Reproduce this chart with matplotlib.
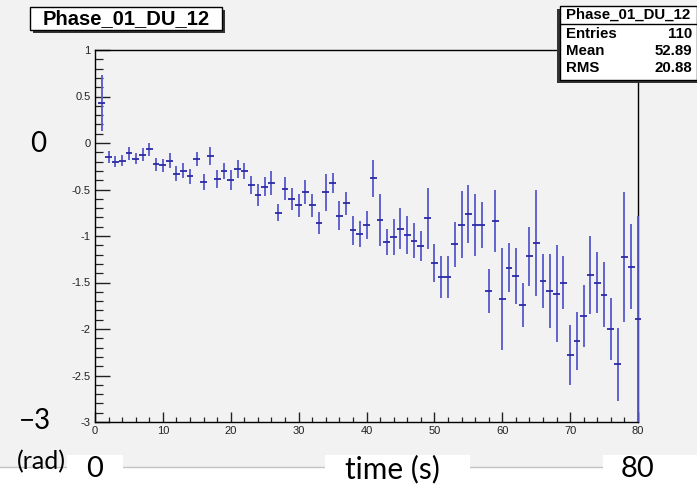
import numpy as np
import matplotlib
matplotlib.use("Agg")
import matplotlib.pyplot as plt
from matplotlib.patches import Rectangle
from matplotlib.ticker import MultipleLocator

# bin centres (s), phase (rad) and errors
time_s = np.arange(1, 81)
phase = [0.43, -0.15, -0.20, -0.19, -0.11, -0.17, -0.125, -0.065, -0.23, -0.24,
         -0.19, -0.33, -0.30, -0.36, -0.17, -0.42, -0.14, -0.39, -0.30, -0.40,
         -0.28, -0.30, -0.45, -0.56, -0.47, -0.43, -0.75, -0.49, -0.60, -0.67,
         -0.53, -0.67, -0.86, -0.53, -0.43, -0.78, -0.65, -0.94, -0.98, -0.88,
         -0.38, -0.83, -1.06, -1.01, -0.92, -0.99, -1.05, -1.11, -0.81, -1.29,
         -1.44, -1.44, -1.09, -0.88, -0.76, -0.88, -0.88, -1.59, -0.84, -1.68,
         -1.34, -1.43, -1.74, -1.22, -1.07, -1.48, -1.59, -1.62, -1.50, -2.28,
         -2.13, -1.86, -1.42, -1.50, -1.63, -2.00, -2.38, -1.23, -1.33, -1.89]
phase_err = [0.30, 0.06, 0.06, 0.06, 0.07, 0.06, 0.07, 0.07, 0.07, 0.07,
             0.08, 0.08, 0.08, 0.08, 0.075, 0.085, 0.10, 0.095, 0.09, 0.11,
             0.10, 0.09, 0.10, 0.12, 0.10, 0.13, 0.09, 0.125, 0.12, 0.125,
             0.13, 0.125, 0.12, 0.20, 0.11, 0.16, 0.12, 0.16, 0.14, 0.15,
             0.20, 0.28, 0.14, 0.19, 0.22, 0.20, 0.19, 0.16, 0.33, 0.20,
             0.23, 0.23, 0.24, 0.36, 0.31, 0.33, 0.25, 0.24, 0.33, 0.55,
             0.26, 0.30, 0.24, 0.32, 0.57, 0.29, 0.40, 0.52, 0.28, 0.32,
             0.31, 0.33, 0.42, 0.33, 0.35, 0.33, 0.39, 0.70, 0.46, 1.11]

hist_name = "Phase_01_DU_12"
stat_names = ["Entries", "Mean", "RMS"]
stat_values = ["110", "52.89", "20.88"]
ytick_vals = [1, 0.5, 0, -0.5, -1, -1.5, -2, -2.5, -3]
ytick_labels = ["1", "0.5", "0", "-0.5", "-1", "-1.5", "-2", "-2.5", "-3"]
xtick_vals = [0, 10, 20, 30, 40, 50, 60, 70, 80]

W, H = 697, 487
BG = "#f2f2f2"
ROOT = "Liberation Sans"
SLIDE = "Lato"


def fx(px):
    return px / W


def fy(py):
    return 1 - py / H


fig = plt.figure(figsize=(W / 100, H / 100), dpi=100, facecolor="white")

# ROOT canvas background
fig.patches.append(Rectangle((0, fy(467)), 1, 1 - fy(467), transform=fig.transFigure,
                             facecolor=BG, edgecolor="none", zorder=-2))
fig.lines.append(plt.Line2D([0, 1], [fy(467), fy(467)], transform=fig.transFigure,
                            color="#c4c4c4", lw=1.0, zorder=-1))

ax = fig.add_axes([fx(95), fy(422), fx(638) - fx(95), fy(50) - fy(422)])
ax.set_zorder(2)
ax.set_facecolor(BG)
ax.set_xlim(0, 80)
ax.set_ylim(-3, 1)

ax.errorbar(time_s, phase, yerr=phase_err, fmt="none", ecolor="#5858cc",
            elinewidth=1.3, capsize=0, zorder=3, clip_on=False)
ax.errorbar(time_s, phase, xerr=0.5, fmt="none", ecolor="#2a2aa6",
            elinewidth=1.3, capsize=0, zorder=4, clip_on=False)

for s in ax.spines.values():
    s.set_color("black")
    s.set_linewidth(1.0)

ax.set_yticks(ytick_vals)
ax.set_yticklabels(ytick_labels)
ax.set_xticks(xtick_vals)
ax.yaxis.set_minor_locator(MultipleLocator(0.1))
ax.xaxis.set_minor_locator(MultipleLocator(2))
ax.tick_params(axis="y", which="major", direction="in", length=11, width=1.0,
               labelsize=8, pad=3, colors="#222222")
ax.tick_params(axis="y", which="minor", direction="in", length=5.5, width=0.9,
               colors="#222222")
ax.tick_params(axis="x", which="major", direction="in", length=7, width=1.0,
               labelsize=8, pad=3, colors="#222222")
ax.tick_params(axis="x", which="minor", direction="in", length=3.5, width=0.9,
               colors="#222222")
for lab in ax.get_xticklabels() + ax.get_yticklabels():
    lab.set_fontfamily(ROOT)

# title box (top left)
fig.patches.append(Rectangle((fx(33), fy(33)), fx(225) - fx(33), fy(10) - fy(33),
                             transform=fig.transFigure, facecolor="#333333",
                             edgecolor="none", zorder=5))
fig.patches.append(Rectangle((fx(30), fy(30)), fx(222) - fx(30), fy(7) - fy(30),
                             transform=fig.transFigure, facecolor="white",
                             edgecolor="black", lw=1.0, zorder=6))
fig.text(fx(126), fy(18.5), hist_name, ha="center", va="center", fontsize=14.5,
         fontweight="bold", family=ROOT, zorder=7)

# stats box (top right)
fig.patches.append(Rectangle((fx(557), fy(83)), fx(697) - fx(557), fy(9) - fy(83),
                             transform=fig.transFigure, facecolor="#333333",
                             edgecolor="none", zorder=5))
fig.patches.append(Rectangle((fx(560), fy(80)), fx(697) - fx(560), fy(6) - fy(80),
                             transform=fig.transFigure, facecolor="white",
                             edgecolor="black", lw=1.0, zorder=6))
fig.lines.append(plt.Line2D([fx(560), fx(697)], [fy(24), fy(24)], transform=fig.transFigure,
                            color="black", lw=1.0, zorder=7))
fig.text(fx(628), fy(15), hist_name, ha="center", va="center", fontsize=10.8,
         fontweight="bold", family=ROOT, zorder=7)
for i, (n, v) in enumerate(zip(stat_names, stat_values)):
    yy = fy(34 + 17 * i)
    fig.text(fx(566), yy, n, ha="left", va="center", fontsize=10.8,
             fontweight="bold", family=ROOT, zorder=7)
    fig.text(fx(692), yy, v, ha="right", va="center", fontsize=10.8,
             fontweight="bold", family=ROOT, zorder=7)

# slide annotations
for x0, x1 in [(67, 123), (325, 470), (603, 697)]:
    fig.patches.append(Rectangle((fx(x0), 0), fx(x1) - fx(x0), fy(455), transform=fig.transFigure,
                                 facecolor="white", edgecolor="none", zorder=8))
fig.text(fx(38), fy(144), "0", ha="center", va="center", fontsize=20, family=SLIDE, zorder=9)
fig.text(fx(35), fy(421), "\u22123", ha="center", va="center", fontsize=20, family=SLIDE, zorder=9)
fig.text(fx(17), fy(462), "(rad)", ha="left", va="center", fontsize=18, family=SLIDE, zorder=9)
fig.text(fx(95), fy(469), "0", ha="center", va="center", fontsize=21, family=SLIDE, zorder=9)
fig.text(fx(392), fy(469), "time (s)", ha="center", va="center", fontsize=21.5, family=SLIDE, zorder=9)
fig.text(fx(637), fy(469), "80", ha="center", va="center", fontsize=21, family=SLIDE, zorder=9)

fig.savefig("out.png", dpi=100, facecolor=fig.get_facecolor())
